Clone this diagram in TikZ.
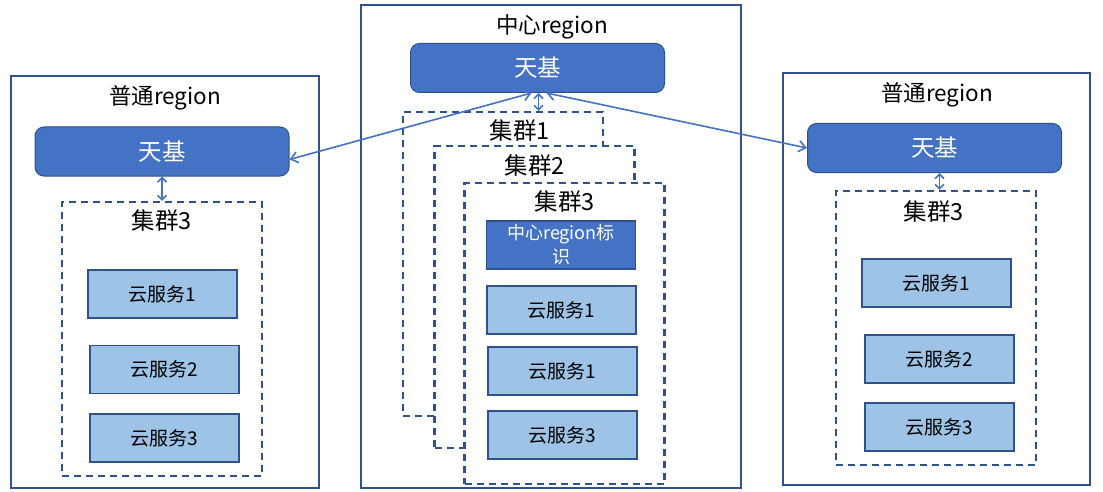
\documentclass[tikz,border=0pt]{standalone}
\usepackage{fontspec}
\setmainfont{Noto Sans CJK SC}
\usepackage{tikz}
\usetikzlibrary{calc}
\usetikzlibrary{arrows.meta}
\usepackage{xcolor}
\definecolor{tjblue}{HTML}{4472C4}
\definecolor{edgeblue}{HTML}{2F528F}
\definecolor{svcblue}{HTML}{9DC3E6}
\newcommand{\bigtxt}{\fontsize{23.5}{27}\selectfont}
\newcommand{\regiontxt}{\fontsize{22.5}{26}\selectfont}
\newcommand{\smalltxt}{\fontsize{19}{24}\selectfont}
\newcommand{\marktxt}{\fontsize{18}{24}\selectfont}

\begin{document}
\begin{tikzpicture}[x=1pt, y=-1pt,
  region/.style = {draw=edgeblue, line width=1.3pt, fill=white, inner sep=0},
  tianji/.style = {draw=edgeblue, fill=tjblue, rounded corners=9pt, line width=1pt, text=white, minimum width=254pt, minimum height=49pt, inner sep=0, font=\bigtxt},
  cluster/.style = {draw=edgeblue, line width=2.1pt, dash pattern=on 7pt off 5pt, fill=white, minimum width=200pt, inner sep=0},
  service/.style = {draw=edgeblue, fill=svcblue, line width=1.2pt, minimum width=149pt, minimum height=48pt, inner sep=0, font=\smalltxt},
  markbox/.style = {service, fill=tjblue, text=white, align=center, font=\marktxt},
  link/.style = {draw=tjblue, line width=1.6pt, {Straight Barb[length=7pt,width=11pt]}-{Straight Barb[length=7pt,width=11pt]}},
  shortlink/.style = {draw=tjblue, line width=1.6pt, {Straight Barb[length=4.5pt,width=9pt]}-{Straight Barb[length=4.5pt,width=9pt]}},
  title/.style = {font=\regiontxt, inner sep=0},
  cltitle/.style = {font=\bigtxt, inner sep=0}]

\useasboundingbox (0,0) rectangle (1103,492);


% left region
\node[region, minimum width=308pt, minimum height=412pt] (regL) at (165,282) {};
\node[title] (titleL) at (165,98) {普通region};
\node[tianji] (tjL) at (162,151.5) {天基};
\node[cluster, minimum height=274pt] (clL) at (162,339) {};
\node[cltitle] (clLtext) at (162,221) {集群3};
\node[service] (svL1) at (162.5,294) {云服务1};
\node[service] (svL2) at (164.5,369.5) {云服务2};
\node[service] (svL3) at (164.5,438) {云服务3};

% center region
\node[region, minimum width=380pt, minimum height=483pt] (regC) at (551,246.5) {};
\node[title] (titleC) at (552,27) {中心region};
\node[tianji] (tjC) at (537.5,68) {天基};
\node[cluster, minimum height=304pt] (clC1) at (503,264) {};
\node[cltitle] (clC1text) at (520,131) {集群1};
\node[cluster, minimum height=302pt] (clC2) at (534.5,297) {};
\node[cltitle] (clC2text) at (535,166) {集群2};
\node[cluster, minimum height=301pt] (clC3) at (564.5,333.5) {};
\node[cltitle] (clC3text) at (565,202) {集群3};
\node[markbox] (markC) at (561,245) {中心region标\\识};
\node[service] (svC1) at (561.5,310) {云服务1};
\node[service] (svC2) at (562.5,371) {云服务1};
\node[service] (svC3) at (562.5,435) {云服务3};

% right region
\node[region, minimum width=307pt, minimum height=412pt] (regR) at (936.5,279) {};
\node[title] (titleR) at (937,95) {普通region};
\node[tianji] (tjR) at (934.5,148) {天基};
\node[cluster, minimum height=274pt] (clR) at (936,328) {};
\node[cltitle] (clRtext) at (934,212) {集群3};
\node[service] (svR1) at (936.5,283) {云服务1};
\node[service] (svR2) at (939.5,359) {云服务2};
\node[service] (svR3) at (939.5,427) {云服务3};


\draw[shortlink] (tjL.south) -- (clL.north);
\draw[shortlink] ($(tjC.south)+(1,0)$) -- ($(tjC.south |- clC1.north)+(1,0)$);
\draw[shortlink] ($(tjR.south)+(5,0)$) -- ($(tjR.south |- clR.north)+(5,0)$);

\draw[link] ($(tjC.south)+(-6,0)$) -- ($(tjL.east)+(0,8)$);
\draw[link] ($(tjC.south)+(9,0)$) -- (tjR.west);


\end{tikzpicture}
\end{document}
